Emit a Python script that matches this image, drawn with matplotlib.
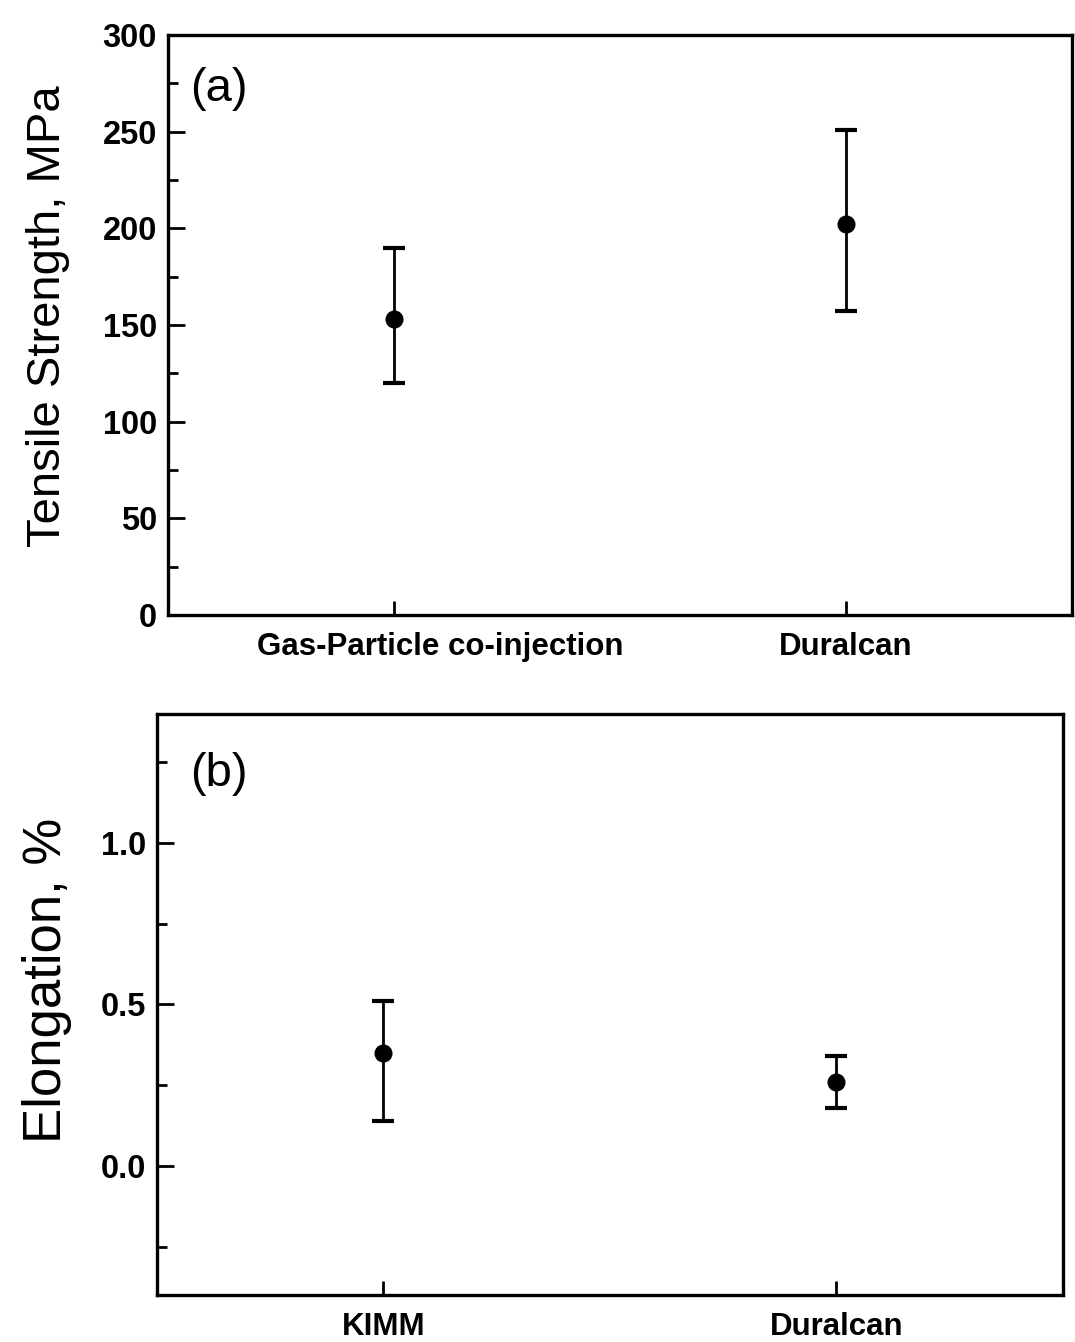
import matplotlib.pyplot as plt
import matplotlib.transforms as mtransforms
from matplotlib.ticker import MultipleLocator

plt.rcParams['font.family'] = ['Liberation Sans', 'DejaVu Sans']

# (a) tensile strength
cats_a = ["Gas-Particle co-injection", "Duralcan"]
strength = [153, 202]
strength_lo = [120, 157]
strength_hi = [190, 251]

# (b) elongation
cats_b = ["KIMM", "Duralcan"]
elong = [0.35, 0.26]
elong_lo = [0.14, 0.18]
elong_hi = [0.51, 0.34]

fig = plt.figure(figsize=(10.75, 13.42), dpi=100)
ax1 = fig.add_axes([0.1563, 0.5417, 0.8409, 0.4322])
ax2 = fig.add_axes([0.146, 0.035, 0.8428, 0.433])


def panel(ax, cats, vals, lo, hi):
    xs = [1, 2]
    err = [[v - l for v, l in zip(vals, lo)], [h - v for v, h in zip(vals, hi)]]
    ax.errorbar(xs, vals, yerr=err, fmt='o', color='black', ms=12,
                elinewidth=2.0, capsize=8, capthick=3)
    ax.set_xlim(0.5, 2.5)
    ax.set_xticks(xs)
    ax.set_xticklabels(cats, fontsize=22.5, fontweight='bold')
    ax.tick_params(axis='x', direction='in', length=10, width=2, pad=12)
    ax.tick_params(axis='y', which='major', direction='in', length=12, width=2,
                   labelsize=23.5, pad=8)
    ax.tick_params(axis='y', which='minor', direction='in', length=7, width=2)
    for s in ax.spines.values():
        s.set_linewidth(2.4)


panel(ax1, cats_a, strength, strength_lo, strength_hi)
ax1.set_ylim(0, 300)
ax1.yaxis.set_major_locator(MultipleLocator(50))
ax1.yaxis.set_minor_locator(MultipleLocator(25))
for lab in ax1.get_yticklabels():
    lab.set_fontweight('bold')
# first category label sits a bit right of its tick in the original
lab0 = ax1.get_xticklabels()[0]
lab0.set_transform(lab0.get_transform() +
                   mtransforms.ScaledTranslation(0.46, 0, fig.dpi_scale_trans))
ax1.set_ylabel("Tensile Strength, MPa", fontsize=34)
ax1.yaxis.set_label_coords(-0.108, 0.515)
ax1.text(0.024, 0.945, "(a)", transform=ax1.transAxes, fontsize=34, va='top')

panel(ax2, cats_b, elong, elong_lo, elong_hi)
ax2.set_ylim(-0.4, 1.4)
ax2.yaxis.set_minor_locator(MultipleLocator(0.25))
ax2.set_yticks([0.0, 0.5, 1.0])
ax2.set_yticklabels(["0.0", "0.5", "1.0"], fontweight='bold')
ax2.set_ylabel("Elongation, %", fontsize=38)
ax2.yaxis.set_label_coords(-0.094, 0.542)
ax2.text(0.037, 0.935, "(b)", transform=ax2.transAxes, fontsize=34, va='top')

fig.savefig("out.png", dpi=100)
